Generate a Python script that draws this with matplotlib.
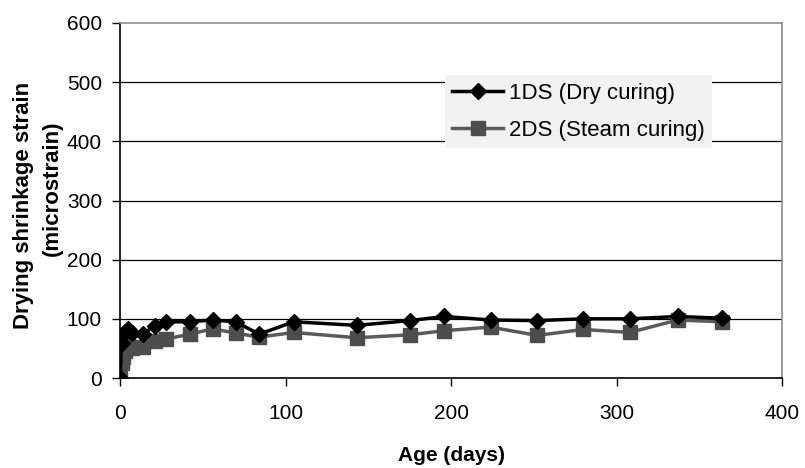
import matplotlib
matplotlib.use("Agg")
import matplotlib.pyplot as plt

plt.rcParams['font.family'] = ['Liberation Sans', 'DejaVu Sans']

days_1ds = [0, 1, 3, 5, 7, 14, 21, 28, 42, 56, 70, 84, 105, 143, 175, 196, 224, 252, 280, 308, 337, 364]
strain_1ds = [0, 60, 78, 83, 76, 75, 88, 95, 95, 98, 95, 74, 95, 89, 97, 104, 98, 97, 100, 100, 104, 101]

days_2ds = [0, 1, 2, 3, 5, 7, 14, 21, 28, 42, 56, 70, 84, 105, 143, 175, 196, 224, 252, 280, 308, 337, 364]
strain_2ds = [0, 25, 35, 45, 55, 50, 52, 62, 66, 74, 83, 76, 69, 77, 68, 73, 80, 86, 72, 82, 77, 98, 95]

label_1ds = "1DS (Dry curing)"
label_2ds = "2DS (Steam curing)"
ylabel_line1 = "Drying shrinkage strain"
ylabel_line2 = "(microstrain)"
xlabel = "Age (days)"
xticks = [0, 100, 200, 300, 400]
yticks = [0, 100, 200, 300, 400, 500, 600]

fig = plt.figure(figsize=(8.05, 4.68), dpi=100)
ax = fig.add_axes([120/805, 1-378/468, 662/805, 355/468])

ax.plot(days_1ds, strain_1ds, color='black', lw=2.5, marker='D', ms=8.5,
        mfc='black', mec='black', label=label_1ds, zorder=4)
ax.plot(days_2ds, strain_2ds, color='#5a5a5a', lw=2.5, marker='s', ms=10,
        mfc='#4d4d4d', mec='#4d4d4d', label=label_2ds, zorder=3)

ax.set_xlim(0, 400)
ax.set_ylim(0, 600)
ax.set_xticks(xticks)
ax.set_yticks(yticks)
ax.tick_params(axis='both', direction='out', length=6, width=1, labelsize=15, colors='black')
ax.tick_params(axis='x', pad=13)
ax.tick_params(axis='y', pad=7)
for y in yticks[1:-1]:
    ax.axhline(y, color='black', lw=0.9, zorder=1)

ax.spines['left'].set_color('black')
ax.spines['bottom'].set_color('black')
ax.spines['top'].set_color('#8c8c8c')
ax.spines['right'].set_color('#8c8c8c')
for s in ax.spines.values():
    s.set_linewidth(1.2)

ax.set_xlabel(xlabel, fontsize=15, fontweight='bold', labelpad=16)
fig.text(23/805, 1-205/468, ylabel_line1, rotation=90, ha='center', va='center',
         fontsize=16, fontweight='bold')
fig.text(52/805, 1-188/468, ylabel_line2, rotation=90, ha='center', va='center',
         fontsize=16, fontweight='bold')

leg = ax.legend(loc='upper left', bbox_to_anchor=(0.491, 0.853), frameon=True,
                fontsize=16, handlelength=2.3, handletextpad=0.25, borderpad=0.33,
                labelspacing=0.72, fancybox=False, borderaxespad=0)
leg.get_frame().set_facecolor('#f2f2f2')
leg.get_frame().set_edgecolor('none')
leg.get_frame().set_alpha(1)

fig.savefig('out.png', dpi=100)
